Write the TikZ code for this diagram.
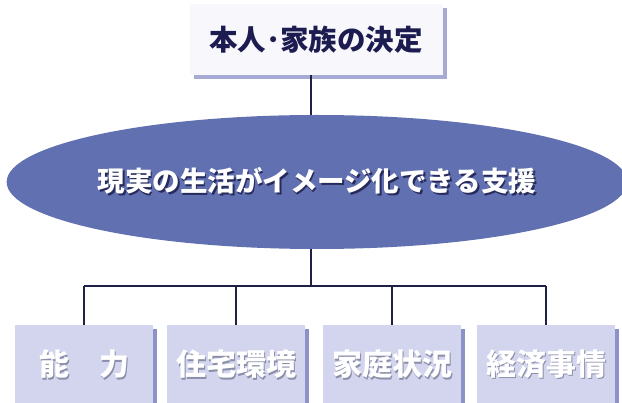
\documentclass[tikz,border=0pt]{standalone}
\usepackage{fontspec}
\setmainfont{Noto Sans CJK JP}
\usepackage{tikz}
\usetikzlibrary{shapes}
\usetikzlibrary{shadows}
\usetikzlibrary{positioning}
\usetikzlibrary{calc}

\definecolor{linenavy}{HTML}{1E2045}
\definecolor{topfill}{HTML}{F7F7FC}
\definecolor{topshade}{HTML}{A6AAD4}
\definecolor{topink}{HTML}{1C1C50}
\definecolor{ovalfill}{HTML}{6170B0}
\definecolor{ovalshade}{HTML}{262B5C}
\definecolor{boxfill}{HTML}{D3D5EE}
\definecolor{boxshade}{HTML}{8C92C8}
\definecolor{inkshade}{HTML}{8A8EA8}

% white text with a small dark copy behind it
\newcommand{\shtxt}[2]{\makebox[0pt][l]{\hspace{1.5pt}\raisebox{-1.5pt}{\textcolor{#1}{#2}}}\textcolor{white}{#2}}

\begin{document}
\begin{tikzpicture}[x=1pt, y=-1pt,
		conn/.style={draw=linenavy, line width=1.4pt},
		decision/.style={fill=topfill, minimum width=253pt, minimum height=71pt, inner sep=0pt,
			general shadow={shadow xshift=4pt, shadow yshift=-4pt, fill=topshade},
			text=topink, font=\fontsize{28.5}{30}\selectfont\bfseries},
		support/.style={ellipse, fill=ovalfill, minimum width=586pt, minimum height=134pt, inner sep=0pt,
			font=\fontsize{27.5}{30}\selectfont\bfseries},
		factor/.style={fill=boxfill, minimum width=138pt, minimum height=80pt, inner sep=0pt,
			general shadow={shadow xshift=4pt, shadow yshift=-4pt, fill=boxshade},
			font=\fontsize{30}{32}\selectfont\bfseries}]
	\useasboundingbox (0, 0) rectangle (622, 403);
	\clip (0, 0) rectangle (622, 403);

	\node[decision] (kettei) at (316, 39.5) {本人･家族の決定};
	\node[support] (image) at (317, 182) {\shtxt{ovalshade}{現実の生活がイメージ化できる支援}};

	\node[factor] (noryoku) at (84, 365) {\shtxt{inkshade}{能　力}};
	\node[factor] (jutaku) at (236, 365) {\shtxt{inkshade}{住宅環境}};
	\node[factor] (katei) at (392, 365) {\shtxt{inkshade}{家庭状況}};
	\node[factor] (keizai) at (546, 365) {\shtxt{inkshade}{経済事情}};

	\coordinate (bar) at ($(image.south) + (-6, 37)$);

	\draw[conn] (kettei.south -| 311, 0) -- (image.north -| 311, 0);
	\draw[conn] (image.south -| bar) -- (bar);
	\draw[conn] (bar -| noryoku.north) -- (bar -| keizai.north);
	\foreach \f in {noryoku, jutaku, katei, keizai}
		\draw[conn] (bar -| \f.north) -- (\f.north);
\end{tikzpicture}
\end{document}
